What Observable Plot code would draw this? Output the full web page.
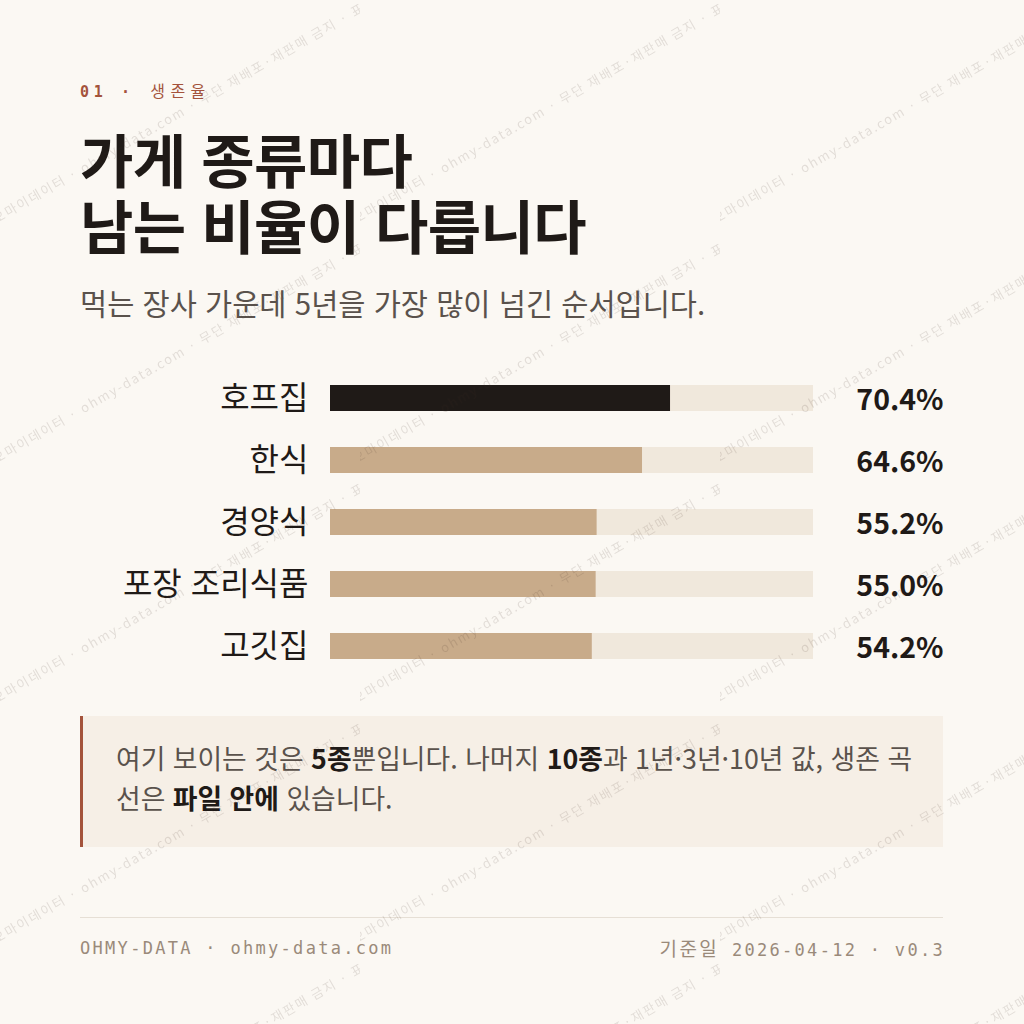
<!DOCTYPE html>
<html lang="ko">
<head>
<meta charset="utf-8">
<script src="https://cdn.jsdelivr.net/npm/d3@7"></script>
<script src="https://cdn.jsdelivr.net/npm/@observablehq/plot@0.6"></script>
<style>
  html, body { margin: 0; padding: 0; }
  body {
    width: 1024px; height: 1024px; position: relative; overflow: hidden;
    background-color: #fbf8f3;
    font-family: "Noto Sans CJK KR", "Noto Sans", sans-serif;
    color: #1f1a17;
  }
  #wm { position: absolute; left: 0; top: 0; width: 1024px; height: 1024px; pointer-events: none; z-index: 5; }
  .abs { position: absolute; }
  #kicker {
    left: 80px; top: 80px; line-height: 20px; font-size: 15px; font-weight: 700;
    font-family: "DejaVu Sans Mono", "Noto Sans CJK KR", monospace; color: #a4533b; letter-spacing: 4.6px;
  }
  #kicker .ko { font-weight: 400; font-family: "Noto Sans CJK KR", sans-serif; font-size: 16px; letter-spacing: 5.5px; margin-left: 2px; }
  #title { left: 80px; top: 125px; font-size: 58px; line-height: 66px; font-weight: 700; color: #1f1a17; letter-spacing: -0.6px; }
  #subtitle { left: 80px; top: 284px; font-size: 29.5px; line-height: 36px; color: #5a524c; font-weight: 400; }
  #chart { left: 0; top: 367px; }
  #note {
    left: 80px; top: 716px; width: 863px; height: 131px; padding-left: 33px; box-sizing: border-box;
    background: #f6efe6; border-left: 3px solid #a4533b;
    font-size: 26.8px; line-height: 40px; color: #5a524c; padding-top: 22px; white-space: nowrap;
  }
  #note b { color: #1f1a17; font-weight: 700; }
  #rule { left: 80px; top: 917px; width: 863px; height: 1px; background: #e6dfd5; }
  .foot { top: 937px; font-size: 17px; line-height: 22px; color: #9a8a7a; letter-spacing: 2.3px;
    font-family: "DejaVu Sans Mono", monospace; }
  #footL { left: 80px; }
  #footR { right: 79px; }
  #footR .ko { font-family: "Noto Sans CJK KR", sans-serif; font-size: 19px; letter-spacing: 2.5px; }
</style>
</head>
<body>
<div id="kicker" class="abs">01 · <span class="ko">생존율</span></div>
<div id="title" class="abs">가게 종류마다<br>남는 비율이 다릅니다</div>
<div id="subtitle" class="abs">먹는 장사 가운데 5년을 가장 많이 넘긴 순서입니다.</div>
<div id="chart" class="abs"></div>
<div id="note" class="abs">여기 보이는 것은 <b>5종</b>뿐입니다. 나머지 <b>10종</b>과 1년·3년·10년 값, 생존 곡<br>선은 <b>파일 안에</b> 있습니다.</div>
<div id="rule" class="abs"></div>
<div id="footL" class="abs foot">OHMY-DATA · ohmy-data.com</div>
<div id="footR" class="abs foot"><span class="ko">기준일</span> 2026-04-12 · v0.3</div>
<div id="wm"></div>
<script>
// ---- data ----
const categories = ["호프집", "한식", "경양식", "포장 조리식품", "고깃집"];
const survival5y = [70.4, 64.6, 55.2, 55.0, 54.2];
const highlighted = ["호프집"];
const maxPercent = 100;

const rows = categories.map((c, i) => ({ category: c, value: survival5y[i], hl: highlighted.includes(c) }));

const chart = Plot.plot({
  width: 1024,
  height: 310,
  marginLeft: 330,
  marginRight: 211,
  marginTop: 0,
  marginBottom: 0,
  style: { background: "transparent", fontFamily: "'Noto Sans CJK KR', sans-serif", overflow: "visible" },
  x: { domain: [0, maxPercent], axis: null },
  y: { domain: categories, paddingInner: 0.58, paddingOuter: 0.29, label: null },
  marks: [
    Plot.barX(rows, { x1: 0, x2: maxPercent, y: "category", fill: "#f0e8dc" }),
    Plot.barX(rows.filter(d => !d.hl), { x1: 0, x2: "value", y: "category", fill: "#c8ab8a" }),
    Plot.barX(rows.filter(d => d.hl), { x1: 0, x2: "value", y: "category", fill: "#1f1a17" }),
    Plot.axisY({ tickSize: 0, tickPadding: 22, fontSize: 32, fill: "#1f1a17", label: null }),
    Plot.text(rows, { x: maxPercent, y: "category", text: d => d.value.toFixed(1) + "%", textAnchor: "end", dx: 130, dy: 2, fontSize: 28.5, fontWeight: 700, fill: "#1f1a17" })
  ]
});
document.getElementById("chart").appendChild(chart);

// ---- watermark (tiled) ----
const wmText = "오마이데이터 · ohmy-data.com · 무단 재배포·재판매 금지 · 표본";
const tile = `<svg xmlns="http://www.w3.org/2000/svg" width="360" height="240"><text transform="translate(-4,224) rotate(-30)" font-family="Noto Sans CJK KR, sans-serif" font-size="13" letter-spacing="1.8" fill="#3a2a20" fill-opacity="0.13">${wmText}</text></svg>`;
document.getElementById("wm").style.backgroundImage = `url("data:image/svg+xml;charset=utf-8,${encodeURIComponent(tile)}")`;
document.getElementById("wm").style.backgroundRepeat = "repeat";
</script>
</body>
</html>
